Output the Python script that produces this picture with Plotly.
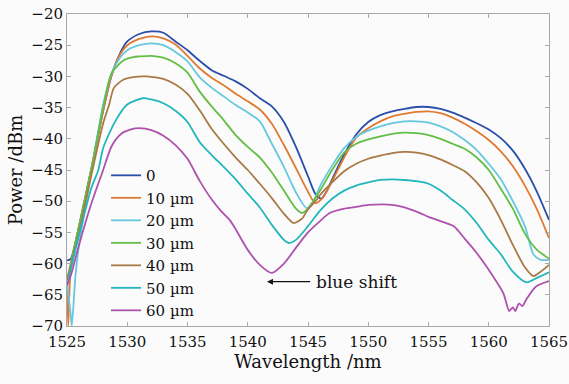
import plotly.graph_objects as go

# ---------------- data ----------------
labels = ["0", "10 µm", "20 µm", "30 µm", "40 µm", "50 µm", "60 µm"]
colors = ["#2B4FA8", "#E07A32", "#66C8DE", "#62BE45", "#A87A45", "#22B6BD", "#AE52AE"]

x0 = [1525, 1525.3, 1526, 1527, 1528, 1528.7, 1529.4, 1530, 1531, 1532, 1533, 1534, 1535, 1536, 1537, 1538,
      1539, 1540, 1541, 1542, 1543, 1544, 1545, 1545.6, 1546.1, 1546.6, 1547, 1548, 1549, 1550, 1551, 1552,
      1553, 1554, 1555, 1556, 1557, 1558, 1559, 1560, 1561, 1562, 1563, 1564, 1565]
y0 = [-59.5, -59.3, -54, -45, -35.5, -29.8, -26.3, -24.4, -23.2, -22.8, -23, -24.4, -25.8, -27.5, -29, -29.9,
      -30.8, -32, -33.5, -34.8, -37.3, -41.3, -46, -48.8, -49.6, -48.2, -46.5, -42.5, -39.3, -37.3, -36.2, -35.6,
      -35.2, -34.9, -34.9, -35.2, -35.8, -36.6, -37.5, -38.5, -39.9, -41.9, -44.8, -48.5, -53]

x10 = [1525, 1525.1, 1525.3, 1526, 1527, 1528, 1528.7, 1529.4, 1530, 1531, 1532, 1533, 1534, 1535, 1536, 1537,
       1538, 1539, 1540, 1541, 1542, 1543, 1544, 1545, 1545.6, 1546.2, 1547, 1548, 1549, 1550, 1551, 1552,
       1553, 1554, 1555, 1556, 1557, 1558, 1559, 1560, 1561, 1562, 1563, 1564, 1565]
y10 = [-63, -70, -61, -54, -45, -35.5, -29.8, -26.5, -25, -24, -23.6, -23.9, -24.9, -26.7, -28.7, -30.2,
       -31.4, -32.8, -34, -35.3, -37.6, -41, -44.7, -48.5, -50.3, -49.5, -46.8, -43, -39.8, -38.3, -37.2, -36.4,
       -36, -35.7, -35.6, -35.9, -36.6, -37.6, -38.8, -40.2, -42, -44.4, -47.5, -51.3, -55.9]

x20 = [1525, 1525.3, 1525.4, 1525.7, 1526, 1527, 1528, 1528.7, 1529.4, 1530, 1531, 1532, 1533, 1534, 1535,
       1536, 1537, 1538, 1539, 1540, 1541, 1542, 1543, 1544, 1544.9, 1545.5, 1546, 1547, 1548, 1549, 1550,
       1551, 1552, 1553, 1554, 1555, 1556, 1557, 1558, 1559, 1560, 1561, 1562, 1563, 1563.7, 1564.3, 1565]
y20 = [-63, -68, -70, -62, -57, -45.5, -34.5, -29.5, -27, -25.8, -25, -24.7, -25, -26.1, -27.6,
       -30.1, -31.8, -33.2, -34.6, -35.8, -37.2, -40.8, -44.5, -48.6, -51.1, -49.8, -47.6, -44.3, -41.5, -39.7, -38.7,
       -38, -37.5, -37.2, -37.2, -37.4, -38, -38.9, -40.2, -41.8, -44, -46.5, -50, -54, -58.5, -59.4, -59.4]

x30 = [1525, 1525.3, 1526, 1527, 1528, 1528.7, 1529.7, 1530.5, 1531, 1532, 1533, 1534, 1535, 1536, 1537,
       1538, 1539, 1540, 1541, 1542, 1543, 1544, 1544.5, 1545, 1546, 1547, 1548, 1549, 1550, 1551, 1552,
       1553, 1554, 1555, 1556, 1557, 1558, 1559, 1560, 1561, 1562, 1563, 1564, 1565]
y30 = [-62.6, -60, -54, -45, -35, -29.5, -27.4, -26.9, -26.8, -26.7, -27, -27.9, -29.4, -32.4, -34.8,
       -37, -39.4, -41.3, -43, -45.4, -48.3, -51.2, -51.9, -51.2, -48.3, -45, -42.2, -40.8, -40.1, -39.6, -39.2,
       -39, -39.1, -39.4, -40, -40.8, -41.6, -43, -45, -48, -51.2, -55.2, -57.8, -59.2]

x40 = [1525, 1525.3, 1526, 1527, 1528, 1528.5, 1528.9, 1529.7, 1530.5, 1531.6, 1532.5, 1533, 1534, 1535,
       1536, 1537, 1538, 1539, 1540, 1541, 1542, 1543, 1543.8, 1544.5, 1545, 1545.7, 1546, 1547, 1548, 1549,
       1550, 1551, 1552, 1553, 1554, 1555, 1556, 1557, 1558, 1559, 1560, 1561, 1562, 1563, 1563.7, 1564.3, 1565]
y40 = [-62.6, -60.5, -55, -46, -37.5, -34.5, -31.8, -30.5, -30.1, -30, -30.2, -30.4, -31.3, -32.8,
       -35.4, -38.4, -40.8, -43, -45, -47.2, -49.5, -52, -53.5, -52.8, -51.3, -49.8, -49, -47, -45.2, -44,
       -43.2, -42.7, -42.3, -42.1, -42.2, -42.6, -43.3, -44.2, -45.2, -47, -49.5, -53, -57, -60.6, -62, -61.3, -60.2]

x50 = [1525, 1525.3, 1526, 1527, 1527.6, 1528, 1529, 1530, 1531.3, 1532, 1533, 1534, 1535, 1536, 1537,
       1538, 1539, 1540, 1541, 1542, 1543, 1543.4, 1544, 1545, 1546, 1547, 1548, 1549, 1550, 1551, 1552,
       1553, 1554, 1555, 1556, 1557, 1558, 1559, 1560, 1561, 1562, 1563.1, 1564, 1565]
y50 = [-63.6, -61, -55.5, -48, -45, -41.5, -37.2, -34.5, -33.5, -33.7, -34.3, -35.5, -37.3, -40.5, -42.6,
       -44.5, -46.5, -48.8, -51, -53.8, -56.2, -56.7, -56.2, -54, -51.5, -49.6, -48.3, -47.5, -47, -46.6, -46.5,
       -46.6, -46.8, -47.2, -48.3, -49.8, -51.3, -53.5, -56.2, -58.5, -61.3, -63, -62.3, -61.4]

x60 = [1525, 1525.3, 1526, 1527, 1528, 1528.7, 1529.5, 1530.3, 1531, 1532, 1533, 1534, 1535, 1536, 1537,
       1537.7, 1538.5, 1539, 1540, 1541, 1542, 1543, 1544.1, 1545, 1546, 1546.8, 1548, 1549, 1550, 1551.2,
       1552, 1553, 1554.3, 1555, 1556, 1557.1, 1558, 1559, 1560, 1561.2, 1561.7, 1562.0, 1562.2, 1562.5,
       1562.8, 1563.1, 1563.9, 1565]
y60 = [-63.5, -62, -57, -50.5, -45, -41.2, -39.2, -38.5, -38.3, -38.6, -39.5, -41, -43.2, -46.7, -49.7,
       -51.4, -53, -54.5, -57.8, -60.2, -61.5, -60, -57.2, -55, -53.2, -51.9, -51.2, -50.9, -50.6, -50.5,
       -50.6, -51, -51.9, -52.5, -53.2, -54, -56, -58.3, -61, -64.7, -67.6, -67.0, -67.6, -66.4,
       -66.8, -65.8, -63.7, -62.8]

xs = [x0, x10, x20, x30, x40, x50, x60]
ys = [y0, y10, y20, y30, y40, y50, y60]

x_ticks = [1525, 1530, 1535, 1540, 1545, 1550, 1555, 1560, 1565]
y_ticks = [-70, -65, -60, -55, -50, -45, -40, -35, -30, -25, -20]

FONT = "DejaVu Serif"

fig = go.Figure()
for lab, col, xv, yv in zip(labels, colors, xs, ys):
    fig.add_trace(go.Scatter(x=xv, y=yv, mode="lines", name=lab, cliponaxis=True,
                             line=dict(color=col, width=1.8, shape="spline", smoothing=0.7)))

axis_common = dict(showline=True, linecolor="#a8a8a8", linewidth=1, mirror="ticks",
                   ticks="inside", ticklen=4, tickcolor="#a8a8a8", showgrid=False,
                   zeroline=False, automargin=False,
                   tickfont=dict(family=FONT, size=15, color="#111"))

fig.update_xaxes(range=[1525, 1565], tickvals=x_ticks, ticklabelstandoff=2,
                 title=dict(text="Wavelength /nm", font=dict(family=FONT, size=18, color="#111"), standoff=2),
                 **axis_common)
fig.update_yaxes(range=[-70, -20], tickvals=y_ticks,
                 title=dict(text="Power /dBm", font=dict(family=FONT, size=18, color="#111"), standoff=4),
                 **axis_common)

fig.add_annotation(x=1541.6, y=-62.9, ax=1545.3, ay=-62.9, axref="x", ayref="y", xref="x", yref="y",
                   text="", showarrow=True, arrowhead=2, arrowsize=1, arrowwidth=1.2, arrowcolor="#111")
fig.add_annotation(x=1545.5, y=-62.9, xref="x", yref="y", text="blue shift", showarrow=False,
                   xanchor="left", yanchor="middle", font=dict(family=FONT, size=17, color="#111"))

fig.update_layout(
    width=569, height=384,
    margin=dict(l=67, r=20, t=14, b=58, autoexpand=False),
    paper_bgcolor="#fbfbfb", plot_bgcolor="#fbfbfb",
    showlegend=True,
    legend=dict(x=0.081, y=0.535, xanchor="left", yanchor="top", bgcolor="rgba(0,0,0,0)",
                font=dict(family=FONT, size=15, color="#111"), tracegroupgap=0,
                itemwidth=30),
)

fig.write_html("out.html", config={"displayModeBar": False},
               post_script="document.body.style.margin='0px';document.body.style.overflow='hidden';")
